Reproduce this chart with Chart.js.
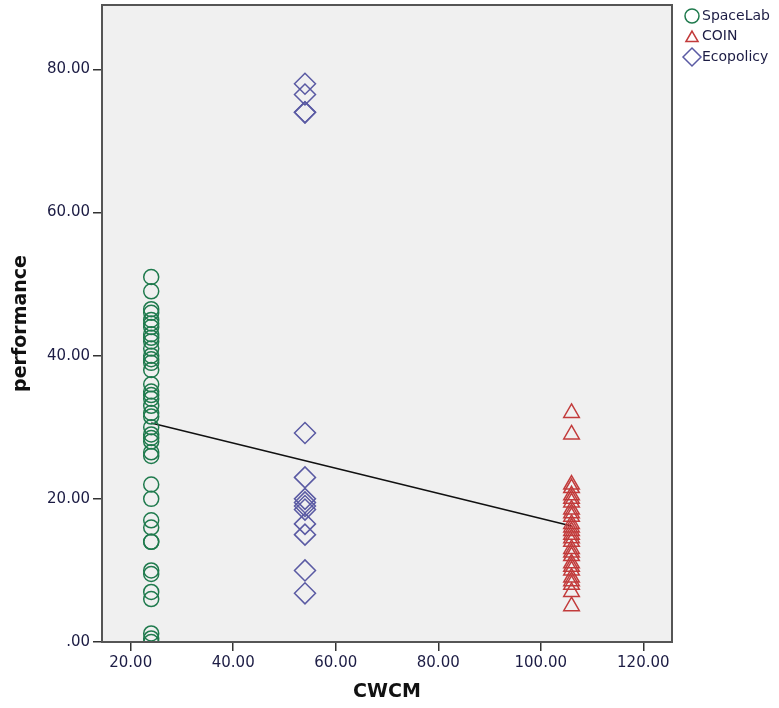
<!DOCTYPE html>
<html>
<head>
<meta charset="utf-8">
<script src="https://cdn.jsdelivr.net/npm/chart.js@4.4.1/dist/chart.umd.min.js"></script>
<style>
  html, body { margin: 0; padding: 0; background: #fff; }
  #wrap { width: 779px; height: 708px; position: relative; }
</style>
</head>
<body>
<div id="wrap"><canvas id="chart"></canvas></div>
<script>
// CWCM value of each group (x position)
const SPACELAB_X = 24;
const COIN_X = 106;
const ECOPOLICY_X = 54;

// performance values
const SPACELAB_Y = [51, 49, 46.5, 46, 45, 44.5, 44, 43, 42.5, 42, 41, 40, 39.5, 39, 38,
  36, 35, 34.5, 34, 33, 32, 31.5, 30, 29, 28.5, 28, 26.5, 26, 22, 20, 17, 16, 14, 14,
  10, 9.5, 7, 6, 1.2, 0.5, 0];
const COIN_Y = [32, 29, 22, 21.5, 20.5, 20, 19.5, 18.5, 18, 17.5, 16.5, 16, 15.5, 15,
  14.5, 14, 13, 12.5, 12, 11, 10.5, 10, 9, 8.5, 8, 7, 5];
const ECOPOLICY_Y = [78, 76.5, 74, 74, 29.2, 23, 20, 19.5, 19, 18.5, 16.5, 15, 10, 6.8];

// fit line end points
const FIT_X = [24, 106];
const FIT_Y = [30.6, 16.2];

const X_TICKS = [20, 40, 60, 80, 100, 120];
const Y_TICKS = [0, 20, 40, 60, 80];

const LEGEND = [
  { label: 'SpaceLab',  style: 'circle',   color: '#1f7a4d' },
  { label: 'COIN',      style: 'triangle', color: '#c23b3b' },
  { label: 'Ecopolicy', style: 'rectRot',  color: '#5a5aa3' }
];

const toPoints = (x, ys) => ys.map(y => ({ x: x, y: y }));

// plot background + frame, and the legend on the right
const framePlugin = {
  id: 'frame',
  beforeDraw(chart) {
    const { ctx, chartArea: a } = chart;
    ctx.save();
    ctx.fillStyle = '#f0f0f0';
    ctx.fillRect(a.left, a.top, a.right - a.left, a.bottom - a.top);
    ctx.restore();
  },
  afterDraw(chart) {
    const { ctx, chartArea: a } = chart;
    ctx.save();
    ctx.strokeStyle = '#555';
    ctx.lineWidth = 2;
    ctx.strokeRect(a.left, a.top, a.right - a.left, a.bottom - a.top);

    // legend
    ctx.font = '14px "DejaVu Sans", sans-serif';
    ctx.textBaseline = 'middle';
    LEGEND.forEach((item, i) => {
      const y = 16 + i * 20.5;
      ctx.lineWidth = 1.5;
      ctx.strokeStyle = item.color;
      ctx.fillStyle = 'rgba(0,0,0,0)';
      Chart.helpers.drawPoint(ctx, {
        pointStyle: item.style,
        radius: item.style === 'rectRot' ? 9 : 7,
        borderWidth: 1.5
      }, 692, item.style === 'triangle' ? y + 1.5 : y);
      ctx.fillStyle = '#1c1c44';
      ctx.fillText(item.label, 702, y);
    });
    ctx.restore();
  }
};

function scatterSet(label, x, ys, style, color, radius) {
  return {
    type: 'scatter',
    label: label,
    data: toPoints(x, ys),
    pointStyle: style,
    pointRadius: radius,
    pointHoverRadius: radius,
    pointBorderWidth: 1.5,
    borderColor: color,
    backgroundColor: 'rgba(0,0,0,0)',
    clip: 0
  };
}

new Chart(document.getElementById('chart'), {
  type: 'scatter',
  data: {
    datasets: [
      scatterSet('SpaceLab', SPACELAB_X, SPACELAB_Y, 'circle', LEGEND[0].color, 7.5),
      scatterSet('COIN', COIN_X, COIN_Y, 'triangle', LEGEND[1].color, 9),
      scatterSet('Ecopolicy', ECOPOLICY_X, ECOPOLICY_Y, 'rectRot', LEGEND[2].color, 10.5),
      {
        type: 'line',
        label: 'fit',
        data: FIT_X.map((x, i) => ({ x: x, y: FIT_Y[i] })),
        borderColor: '#111',
        borderWidth: 1.5,
        pointRadius: 0,
        fill: false,
        tension: 0
      }
    ]
  },
  plugins: [framePlugin],
  options: {
    responsive: true,
    maintainAspectRatio: false,
    animation: false,
    layout: { autoPadding: false, padding: { top: 5, right: 107, left: 0, bottom: 0 } },
    plugins: {
      legend: { display: false },
      tooltip: { enabled: false }
    },
    scales: {
      x: {
        type: 'linear',
        min: 14.4,
        max: 125.6,
        afterBuildTicks: axis => { axis.ticks = X_TICKS.map(v => ({ value: v })); },
        afterFit: axis => { axis.height = 66; axis.paddingLeft = 0; axis.paddingRight = 0; },
        grid: { drawOnChartArea: false, drawTicks: true, tickLength: 9, color: '#333', lineWidth: 1.5 },
        border: { display: false },
        ticks: {
          padding: 3,
          color: '#1c1c44',
          font: { family: '"DejaVu Sans", sans-serif', size: 15 },
          maxRotation: 0,
          callback: v => v.toFixed(2)
        },
        title: {
          display: true,
          text: 'CWCM',
          color: '#111',
          font: { family: '"DejaVu Sans", sans-serif', size: 19, weight: 'bold' },
          padding: { top: 0, bottom: 5 }
        }
      },
      y: {
        type: 'linear',
        min: 0,
        max: 89,
        afterBuildTicks: axis => { axis.ticks = Y_TICKS.map(v => ({ value: v })); },
        afterFit: axis => { axis.width = 102; axis.paddingTop = 0; axis.paddingBottom = 0; },
        grid: { drawOnChartArea: false, drawTicks: true, tickLength: 9, color: '#333', lineWidth: 1.5 },
        border: { display: false },
        ticks: {
          padding: 3,
          color: '#1c1c44',
          font: { family: '"DejaVu Sans", sans-serif', size: 15 },
          callback: v => v === 0 ? '.00' : v.toFixed(2)
        },
        title: {
          display: true,
          text: 'performance',
          color: '#111',
          font: { family: '"DejaVu Sans", sans-serif', size: 19, weight: 'bold' },
          padding: { top: 10, bottom: 0 }
        }
      }
    }
  }
});
</script>
</body>
</html>
